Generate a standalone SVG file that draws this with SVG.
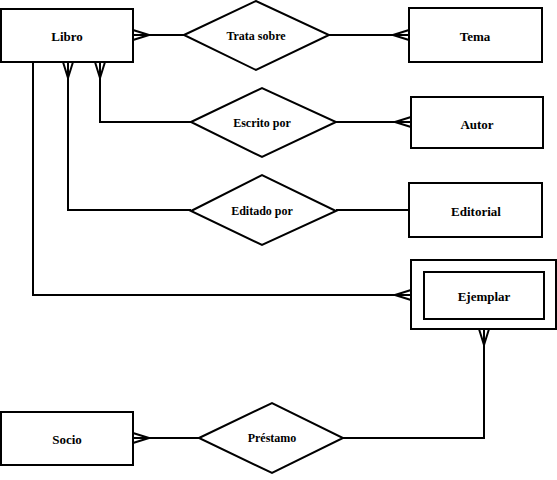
<svg xmlns="http://www.w3.org/2000/svg" width="557" height="480" viewBox="0 0 557 480">
<style>
.box{fill:#fff;stroke:#000;stroke-width:2}
.rel{fill:#fff;stroke:#000;stroke-width:2}
.ln{fill:none;stroke:#000;stroke-width:2}
.t{font-family:"Liberation Serif","Times New Roman",serif;font-weight:bold;font-size:13px;text-anchor:middle;dominant-baseline:central;fill:#000}
.ts{font-size:12px}
</style>
<defs>
<path id="crow" d="M0,0 L16,-5 M0,0 L16,5 M0,0 L16,0" fill="none" stroke="#000" stroke-width="2"/>
</defs>
<rect width="557" height="480" fill="#fff"/>
<g id="connectors">
<path class="ln" d="M133,35 H184"/>
<path class="ln" d="M329,35 H409"/>
<path class="ln" d="M100,62 V122 H191"/>
<path class="ln" d="M336,122 H411"/>
<path class="ln" d="M68,62 V210 H191"/>
<path class="ln" d="M336,210 H409"/>
<path class="ln" d="M33,62 V295 H411"/>
<path class="ln" d="M484,329 V438 H343"/>
<path class="ln" d="M133,438 H199"/>
<use href="#crow" transform="translate(149,35) rotate(180)"/>
<use href="#crow" transform="translate(393,35)"/>
<use href="#crow" transform="translate(100,78) rotate(-90)"/>
<use href="#crow" transform="translate(68,78) rotate(-90)"/>
<use href="#crow" transform="translate(395,122)"/>
<use href="#crow" transform="translate(395,295)"/>
<use href="#crow" transform="translate(484,345) rotate(-90)"/>
<use href="#crow" transform="translate(149,438) rotate(180)"/>
</g>
<g id="libro"><rect class="box" x="1" y="9" width="132" height="53"/><text class="t" x="67" y="36">Libro</text></g>
<g id="trata-sobre"><polygon class="rel" points="184,35 256,1 329,35 256,70"/><text class="t ts" x="256" y="36">Trata sobre</text></g>
<g id="tema"><rect class="box" x="409" y="8" width="133" height="54"/><text class="t" x="475" y="36">Tema</text></g>
<g id="escrito-por"><polygon class="rel" points="191,122 262,88 336,122 262,157"/><text class="t ts" x="262" y="123">Escrito por</text></g>
<g id="autor"><rect class="box" x="411" y="97" width="132" height="51"/><text class="t" x="477" y="124">Autor</text></g>
<g id="editado-por"><polygon class="rel" points="191,211 262,175 336,211 262,245"/><text class="t ts" x="262" y="211">Editado por</text></g>
<g id="editorial"><rect class="box" x="409" y="183" width="133" height="54"/><text class="t" x="476" y="211">Editorial</text></g>
<g id="ejemplar"><rect class="box" x="411" y="260" width="145" height="69"/><rect class="box" x="424" y="272" width="120" height="47"/><text class="t" x="484" y="296">Ejemplar</text></g>
<g id="socio"><rect class="box" x="1" y="412" width="132" height="53"/><text class="t" x="67" y="439">Socio</text></g>
<g id="prestamo"><polygon class="rel" points="199,438 272,403 343,438 272,473"/><text class="t ts" x="272" y="438">Préstamo</text></g>
</svg>
